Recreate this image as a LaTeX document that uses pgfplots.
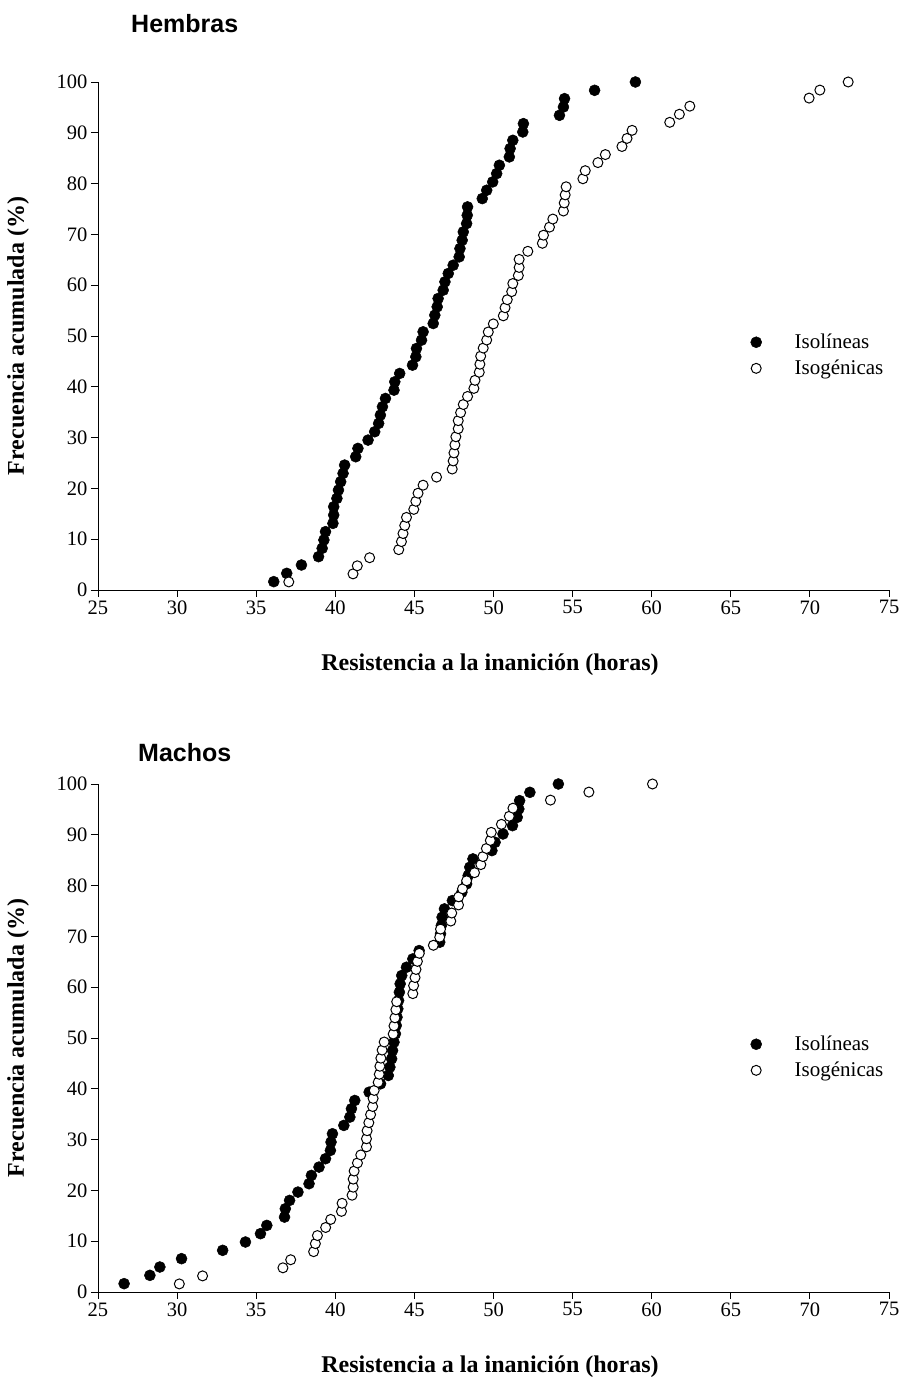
\documentclass[border=0pt]{standalone}
\usepackage{fontspec}
\setmainfont{Liberation Serif}
\setsansfont{Liberation Sans}
\usepackage{pgfplots}
\usepackage{pgfplotstable}
\pgfplotsset{compat=1.18}

\pgfplotstableread{
x y
36.11 1.64
36.93 3.28
37.86 4.92
38.94 6.56
39.17 8.20
39.28 9.84
39.38 11.48
39.85 13.11
39.90 14.75
39.90 16.39
40.10 18.03
40.20 19.67
40.34 21.31
40.49 22.95
40.59 24.59
41.29 26.23
41.43 27.87
42.07 29.51
42.49 31.15
42.74 32.79
42.85 34.43
42.98 36.07
43.17 37.70
43.71 39.34
43.76 40.98
44.07 42.62
44.88 44.26
45.09 45.90
45.13 47.54
45.45 49.18
45.55 50.82
46.19 52.46
46.29 54.10
46.44 55.74
46.50 57.38
46.82 59.02
46.93 60.66
47.14 62.30
47.45 63.93
47.83 65.57
47.88 67.21
48.02 68.85
48.09 70.49
48.30 72.13
48.34 73.77
48.36 75.41
49.29 77.05
49.57 78.69
49.95 80.33
50.20 81.97
50.37 83.61
51.00 85.25
51.05 86.89
51.22 88.52
51.85 90.16
51.89 91.80
54.17 93.44
54.42 95.08
54.49 96.72
56.39 98.36
58.97 100.00
}\hembIso

\pgfplotstableread{
x y
37.06 1.59
41.12 3.17
41.39 4.76
42.17 6.35
44.01 7.94
44.18 9.52
44.28 11.11
44.39 12.70
44.50 14.29
44.96 15.87
45.09 17.46
45.23 19.05
45.55 20.63
46.40 22.22
47.39 23.81
47.45 25.40
47.50 26.98
47.56 28.57
47.62 30.16
47.77 31.75
47.77 33.33
47.92 34.92
48.09 36.51
48.36 38.10
48.76 39.68
48.83 41.27
49.10 42.86
49.14 44.44
49.19 46.03
49.35 47.62
49.57 49.21
49.67 50.79
49.99 52.38
50.62 53.97
50.73 55.56
50.87 57.14
51.15 58.73
51.22 60.32
51.57 61.90
51.62 63.49
51.62 65.08
52.17 66.67
53.09 68.25
53.16 69.84
53.54 71.43
53.75 73.02
54.42 74.60
54.47 76.19
54.53 77.78
54.59 79.37
55.65 80.95
55.80 82.54
56.60 84.13
57.07 85.71
58.12 87.30
58.44 88.89
58.76 90.48
61.14 92.06
61.75 93.65
62.41 95.24
69.95 96.83
70.63 98.41
72.42 100.00
}\hembIsog

\pgfplotstableread{
x y
26.65 1.64
28.28 3.28
28.91 4.92
30.28 6.56
32.88 8.20
34.32 9.84
35.27 11.48
35.67 13.11
36.79 14.75
36.84 16.39
37.11 18.03
37.64 19.67
38.34 21.31
38.49 22.95
38.97 24.59
39.38 26.23
39.69 27.87
39.73 29.51
39.82 31.15
40.54 32.79
40.92 34.43
41.02 36.07
41.23 37.70
42.14 39.34
42.86 40.98
43.35 42.62
43.45 44.26
43.56 45.90
43.62 47.54
43.71 49.18
43.80 50.82
43.85 52.46
43.90 54.10
43.95 55.74
44.00 57.38
44.05 59.02
44.10 60.66
44.20 62.30
44.50 63.93
44.90 65.57
45.30 67.21
46.60 68.85
46.65 70.49
46.70 72.13
46.75 73.77
46.90 75.41
47.40 77.05
48.00 78.69
48.30 80.33
48.40 81.97
48.50 83.61
48.70 85.25
49.90 86.89
50.10 88.52
50.60 90.16
51.20 91.80
51.50 93.44
51.60 95.08
51.65 96.72
52.30 98.36
54.10 100.00
}\machIso

\pgfplotstableread{
x y
30.14 1.59
31.61 3.17
36.69 4.76
37.18 6.35
38.63 7.94
38.74 9.52
38.87 11.11
39.39 12.70
39.71 14.29
40.39 15.87
40.43 17.46
41.06 19.05
41.13 20.63
41.13 22.22
41.19 23.81
41.40 25.40
41.61 26.98
41.97 28.57
41.97 30.16
42.01 31.75
42.12 33.33
42.23 34.92
42.36 36.51
42.39 38.10
42.46 39.68
42.71 41.27
42.78 42.86
42.82 44.44
42.88 46.03
42.96 47.62
43.09 49.21
43.66 50.79
43.71 52.38
43.77 53.97
43.83 55.56
43.88 57.14
44.90 58.73
44.95 60.32
45.04 61.90
45.10 63.49
45.19 65.08
45.31 66.67
46.20 68.25
46.60 69.84
46.65 71.43
47.30 73.02
47.36 74.60
47.79 76.19
47.80 77.78
48.04 79.37
48.30 80.95
48.80 82.54
49.20 84.13
49.33 85.71
49.55 87.30
49.80 88.89
49.86 90.48
50.50 92.06
51.00 93.65
51.23 95.24
53.60 96.83
56.03 98.41
60.05 100.00
}\machIsog

\pgfplotsset{
  myaxis/.style={
    scale only axis,
    width=791pt, height=508pt,
    xmin=25, xmax=75, ymin=0, ymax=100,
    xtick={25,30,...,75}, ytick={0,10,...,100},
    axis x line*=bottom, axis y line*=left,
    axis line style={-, line width=0.9pt, black},
    tick align=outside,
    major tick length=7pt,
    tick style={line width=0.9pt, black},
    tick label style={font=\fontsize{20.5}{24}\selectfont},
    /pgf/number format/assume math mode=true,
    clip=false,
    xlabel={Resistencia a la inanición (horas)},
    ylabel={Frecuencia acumulada (\%)},
    label style={font=\bfseries\fontsize{24}{28}\selectfont},
    xlabel style={at={(axis description cs:0.4956,-0.148)}, anchor=center},
    ylabel style={at={(axis description cs:-0.101,0.5)}, anchor=center},
    legend cell align=left,
    legend style={draw=none, fill=none, inner sep=0pt,
      at={(axis description cs:0.8249,0.462)}, anchor=west,
      font=\fontsize{21}{25}\selectfont, row sep=8pt,
      nodes={inner sep=1pt},
      /tikz/every odd column/.append style={column sep=32pt}},
  },
  isoA/.style={only marks, mark=*, mark size=5.5pt, mark options={fill=black, draw=black, line width=0.5pt}},
  isoB/.style={only marks, mark=*, mark size=5pt, mark options={fill=white, draw=black, line width=1pt}},
}

\begin{document}
\begin{tikzpicture}[x=1pt,y=1pt]
\useasboundingbox (0,0) rectangle (900,1378);
\node[anchor=west, inner sep=0pt, font=\sffamily\bfseries\fontsize{25}{30}\selectfont] at (131,1354) {Hembras};
\node[anchor=west, inner sep=0pt, font=\sffamily\bfseries\fontsize{25}{30}\selectfont] at (138,625) {Machos};

\begin{axis}[myaxis, at={(98pt,788pt)}, anchor=south west]
\addplot[isoA] table[x=x,y=y] {\hembIso};
\addlegendentry{Isolíneas}
\addplot[isoB] table[x=x,y=y] {\hembIsog};
\addlegendentry{Isogénicas}
\end{axis}

\begin{axis}[myaxis, at={(98pt,86pt)}, anchor=south west]
\addplot[isoA] table[x=x,y=y] {\machIso};
\addlegendentry{Isolíneas}
\addplot[isoB] table[x=x,y=y] {\machIsog};
\addlegendentry{Isogénicas}
\end{axis}
\end{tikzpicture}
\end{document}
